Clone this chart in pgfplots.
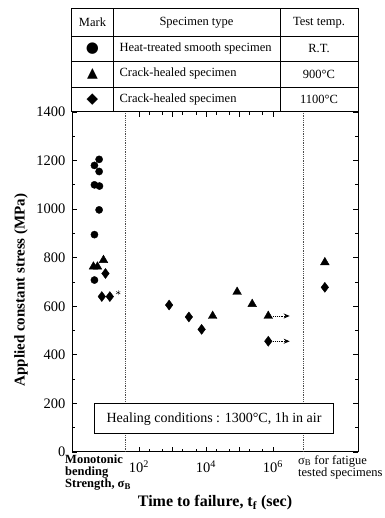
\documentclass[border=0pt]{standalone}
\usepackage{fontspec}
\setmainfont{Liberation Serif}
\newfontfamily\symfont{DejaVu Sans}
\usepackage{pgfplots}
\pgfplotsset{compat=1.18}
\usetikzlibrary{arrows.meta}

\begin{document}
\begin{tikzpicture}[x=1pt,y=1pt]
\useasboundingbox (-72,-66) rectangle (312,452);
\begin{axis}[
  at={(0,0)}, anchor=south west,
  width=286pt, height=340pt, scale only axis,
  xmin=0, xmax=8.54, ymin=0, ymax=1400,
  xtick={2,3,4,5,6},
  xticklabels={10\textsuperscript{2},,10\textsuperscript{4},,10\textsuperscript{6}},
  minor xtick={2.3,2.7,3.3,3.7,4.3,4.7,5.3,5.7},
  ytick={0,200,...,1400}, minor ytick={100,300,...,1300},
  tick align=inside, major tick length=5pt, minor tick length=3pt,
  axis line style={line width=1pt},
  tick style={black, line width=0.8pt},
  ticklabel style={font=\fontsize{14.5}{16}\selectfont},
  yticklabel style={xshift=-3pt},
  xticklabel style={yshift=-5pt},
  /pgf/number format/assume math mode=true,
  /pgf/number format/1000 sep={},
  clip=false,
]
% dotted separators
\addplot[densely dotted, line width=0.8pt, black!70] coordinates {(1.6,0) (1.6,1400)};
\addplot[densely dotted, line width=0.8pt, black!70] coordinates {(6.9,0) (6.9,1400)};
% heat-treated smooth specimen, R.T.
\addplot[only marks, mark=*, mark size=3.6pt, black, mark options={fill=black}] coordinates {
  (0.81,1205) (0.67,1180) (0.81,1155) (0.67,1100) (0.82,1095)
  (0.81,997) (0.67,895) (0.67,708)
};
% crack-healed 900C
\addplot[only marks, mark=triangle*, mark size=5pt, black, mark options={fill=black}] coordinates {
  (0.64,763) (0.76,763) (0.94,790)
  (4.20,560) (4.93,659) (5.38,609) (5.86,560)
  (7.55,781)
};
% crack-healed 1100C
\addplot[only marks, mark=diamond*, mark size=5pt, black, mark options={fill=black}] coordinates {
  (1.00,735) (0.89,640) (1.13,640)
  (2.90,605) (3.49,556) (3.87,505) (5.86,456)
  (7.55,678)
};
\addplot[only marks, mark=asterisk, mark size=2.5pt, black] coordinates {(1.38,656)};
% run-outs
\addplot[densely dotted, line width=0.9pt, -{Stealth[length=6pt,width=5pt]}] coordinates {(6.0,560) (6.5,560)};
\addplot[densely dotted, line width=0.9pt, -{Stealth[length=6pt,width=5pt]}] coordinates {(6.0,456) (6.5,456)};
\node[draw, fill=white, line width=1pt, minimum width=238pt, minimum height=30pt,
  font=\fontsize{14}{16}\selectfont] at (axis cs:4.24,136) {Healing conditions : 1300°C, 1h in air};
\end{axis}
% table
\draw[line width=1pt] (-1,340) rectangle (286,443);
\draw[line width=0.7pt] (-1,416) -- (286,416) (-1,391) -- (286,391) (-1,365) -- (286,365);
\draw[line width=0.8pt] (41,340) -- (41,443) (208,340) -- (208,443);
\begin{scope}[every node/.style={font=\fontsize{12.5}{14}\selectfont}]
\node at (20.5,429.5) {Mark};
\node at (124.5,429.5) {Specimen type};
\node at (247,429.5) {Test temp.};
\node at (20.5,403.5) {\symfont\fontsize{15}{17}\selectfont ●};
\node at (20.5,378) {\symfont\fontsize{14}{17}\selectfont ▲};
\node at (20.5,352.5) {\symfont\fontsize{15}{17}\selectfont ◆};
\node[anchor=west] at (44,403.5) {Heat-treated smooth specimen};
\node[anchor=west] at (44,378) {Crack-healed specimen};
\node[anchor=west] at (44,352.5) {Crack-healed specimen};
\node at (247,403.5) {R.T.};
\node at (247,378) {900°C};
\node at (247,352.5) {1100°C};
\end{scope}
% axis labels
\node[rotate=90, font=\bfseries\fontsize{15}{17}\selectfont] at (-51,162) {Applied constant stress (MPa)};
\node[font=\bfseries\fontsize{16}{18}\selectfont] at (143,-51) {Time to failure, t\textsubscript{f} (sec)};
\node[anchor=north west, align=left, inner sep=0pt, font=\bfseries\fontsize{12.5}{12}\selectfont] at (-7,-3) {Monotonic\\bending\\Strength, σ\textsubscript{B}};
\node[anchor=north west, align=left, inner sep=0pt, font=\fontsize{12.5}{12}\selectfont] at (226,-3) {σ\textsubscript{B} for fatigue\\tested specimens};
\end{tikzpicture}
\end{document}
